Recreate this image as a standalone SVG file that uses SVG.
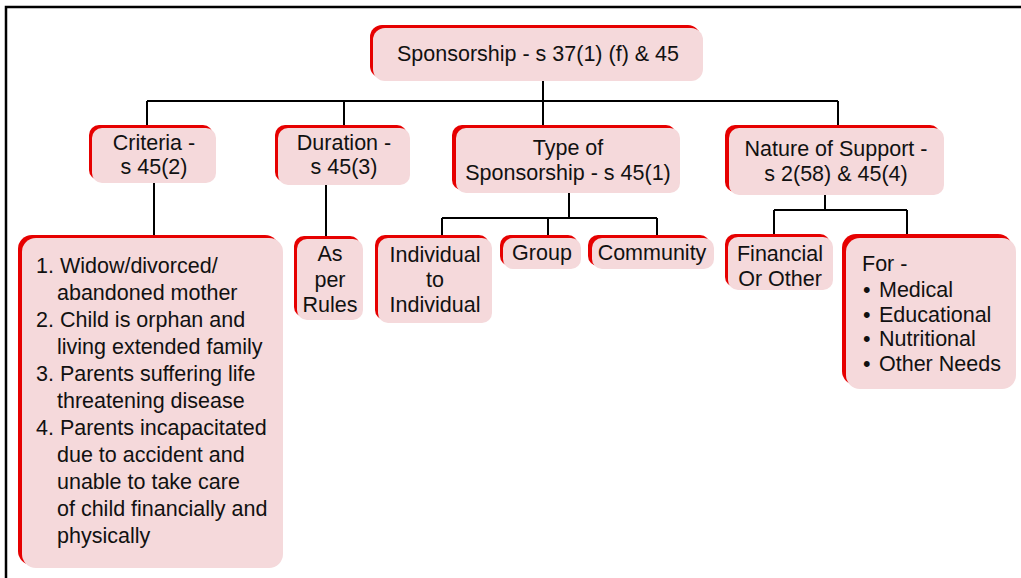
<svg xmlns="http://www.w3.org/2000/svg" width="1021" height="578" viewBox="0 0 1021 578">
<style>
.sh{fill:#e60000}
.bx{fill:#f5d9db}
.t{font-family:"Liberation Sans",Arial,sans-serif;font-size:21.5px;fill:#111}
.c{text-anchor:middle}
.ln{fill:none;stroke:#000;stroke-width:2}
.fr{fill:none;stroke:#000;stroke-width:2.5}
</style>
<rect width="1021" height="578" fill="#fff"/>
<path class="fr" d="M6,578 V7 H1021"/>
<g id="connectors">
<path class="ln" d="M543,81 V101 M147,101 H838 M147,101 V125 M344,101 V125 M543,101 V125 M838,101 V125"/>
<path class="ln" d="M154,183 V235"/>
<path class="ln" d="M326,185 V237"/>
<path class="ln" d="M569,193 V218 M442,218 H657 M442,218 V235 M548,218 V235 M657,218 V235"/>
<path class="ln" d="M825,195 V210 M774,210 H907 M774,210 V234 M907,210 V234"/>
</g>
<g id="n-root">
<rect class="sh" x="370" y="25" width="330" height="53" rx="12"/>
<rect class="bx" x="373" y="28" width="330" height="53" rx="12"/>
<text class="t c" x="538" y="61">Sponsorship - s 37(1) (f) &amp; 45</text>
</g>
<g id="n-criteria">
<rect class="sh" x="89" y="125" width="124" height="55" rx="10"/>
<rect class="bx" x="92" y="128" width="124" height="55" rx="10"/>
<text class="t c" x="154" y="150">Criteria -</text>
<text class="t c" x="154" y="174">s 45(2)</text>
</g>
<g id="n-duration">
<rect class="sh" x="275" y="125" width="132" height="57" rx="10"/>
<rect class="bx" x="278" y="128" width="132" height="57" rx="10"/>
<text class="t c" x="344" y="150">Duration -</text>
<text class="t c" x="344" y="174">s 45(3)</text>
</g>
<g id="n-type">
<rect class="sh" x="452" y="125" width="224" height="65" rx="10"/>
<rect class="bx" x="456" y="128" width="224" height="65" rx="10"/>
<text class="t c" x="568" y="155">Type of</text>
<text class="t c" x="568" y="180">Sponsorship - s 45(1)</text>
</g>
<g id="n-nature">
<rect class="sh" x="725" y="125" width="215" height="67" rx="10"/>
<rect class="bx" x="729" y="128" width="215" height="67" rx="10"/>
<text class="t c" x="836" y="156">Nature of Support -</text>
<text class="t c" x="836" y="181">s 2(58) &amp; 45(4)</text>
</g>
<g id="n-criteria-list">
<rect class="sh" x="18" y="235" width="261" height="330" rx="14"/>
<rect class="bx" x="22" y="238" width="261" height="330" rx="14"/>
<text class="t" x="36" y="273">1. Widow/divorced/</text>
<text class="t" x="57" y="300">abandoned mother</text>
<text class="t" x="36" y="327">2. Child is orphan and</text>
<text class="t" x="57" y="354">living extended family</text>
<text class="t" x="36" y="381">3. Parents suffering life</text>
<text class="t" x="57" y="408">threatening disease</text>
<text class="t" x="36" y="435">4. Parents incapacitated</text>
<text class="t" x="57" y="462">due to accident and</text>
<text class="t" x="57" y="489">unable to take care</text>
<text class="t" x="57" y="516">of child financially and</text>
<text class="t" x="57" y="543">physically</text>
</g>
<g id="n-rules">
<rect class="sh" x="294" y="236" width="66" height="81" rx="10"/>
<rect class="bx" x="297" y="239" width="66" height="81" rx="10"/>
<text class="t c" x="330" y="261">As</text>
<text class="t c" x="330" y="287">per</text>
<text class="t c" x="330" y="312">Rules</text>
</g>
<g id="n-individual">
<rect class="sh" x="375" y="235" width="114" height="85" rx="10"/>
<rect class="bx" x="378" y="238" width="114" height="85" rx="10"/>
<text class="t c" x="435" y="262">Individual</text>
<text class="t c" x="435" y="287">to</text>
<text class="t c" x="435" y="312">Individual</text>
</g>
<g id="n-group">
<rect class="sh" x="500" y="235" width="78" height="31" rx="10"/>
<rect class="bx" x="503" y="238" width="78" height="31" rx="10"/>
<text class="t c" x="542" y="260">Group</text>
</g>
<g id="n-community">
<rect class="sh" x="588" y="235" width="122" height="31" rx="10"/>
<rect class="bx" x="592" y="238" width="122" height="31" rx="10"/>
<text class="t c" x="652" y="260">Community</text>
</g>
<g id="n-financial">
<rect class="sh" x="725" y="234" width="105" height="53" rx="10"/>
<rect class="bx" x="728" y="237" width="105" height="53" rx="10"/>
<text class="t c" x="780" y="261">Financial</text>
<text class="t c" x="780" y="286">Or Other</text>
</g>
<g id="n-for">
<rect class="sh" x="842" y="234" width="170" height="151" rx="14"/>
<rect class="bx" x="846" y="238" width="170" height="151" rx="14"/>
<text class="t" x="862" y="271">For -</text>
<text class="t" x="863" y="297">•</text><text class="t" x="879" y="297">Medical</text>
<text class="t" x="863" y="322">•</text><text class="t" x="879" y="322">Educational</text>
<text class="t" x="863" y="346">•</text><text class="t" x="879" y="346">Nutritional</text>
<text class="t" x="863" y="371">•</text><text class="t" x="879" y="371">Other Needs</text>
</g>
</svg>
